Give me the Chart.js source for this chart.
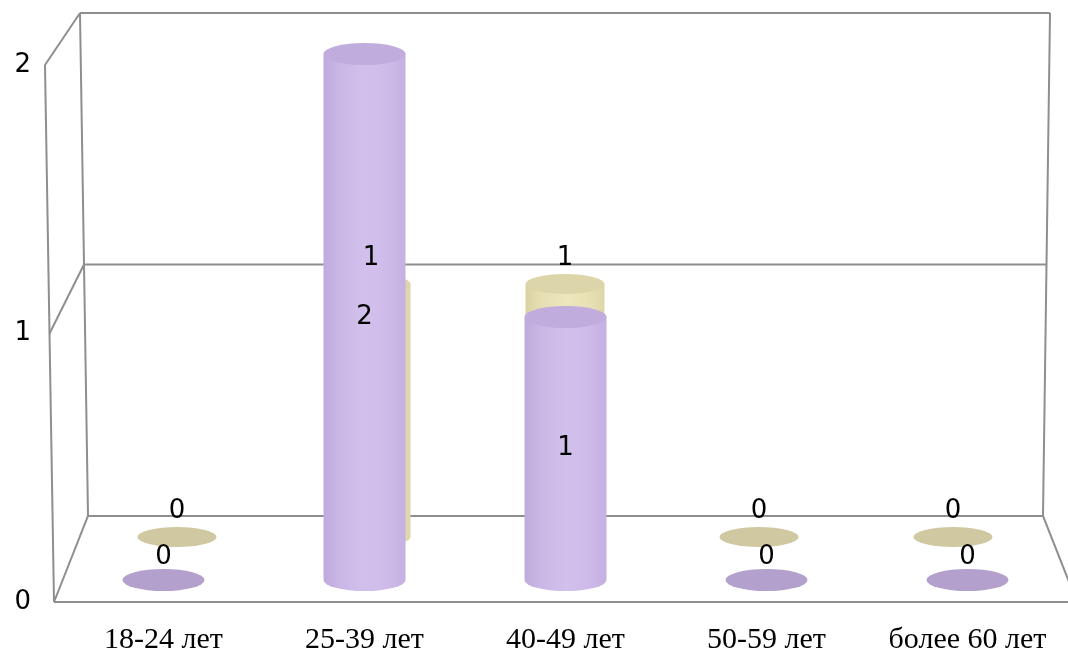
<!DOCTYPE html>
<html lang="ru">
<head>
<meta charset="utf-8">
<title>Возраст</title>
<script src="https://cdn.jsdelivr.net/npm/chart.js@4.4.0/dist/chart.umd.min.js"></script>
<style>
  html, body { margin: 0; padding: 0; background: #fff; }
  #wrap { width: 1068px; height: 652px; position: relative; }
</style>
</head>
<body>
<div id="wrap"><canvas id="chart"></canvas></div>
<script>
// Age groups and the two series (back row and front row)
const categories = ['18-24 лет', '25-39 лет', '40-49 лет', '50-59 лет', 'более 60 лет'];
const backValues = [0, 1, 1, 0, 0];
const frontValues = [0, 2, 1, 0, 0];
const yTicks = [0, 1, 2];

// 3D box outline (pixel geometry of the walls)
const FRAME = {
  backTopLeft: 80, backBottomLeft: 88,
  backTopRight: 1050, backBottomRight: 1043,
  frontTopLeft: 45, frontBottomLeft: 54,
  color: '#8e8e8e', width: 2
};

// Look of each row of cylinders
const ROW_STYLE = {
  back: {
    ry: 10,
    body: ['#d9d1a1', '#e5deb1', '#ece6bd', '#e9e2b6', '#ded6a8'],
    cap: '#ddd5aa',
    flat: '#cfc8a0'
  },
  front: {
    ry: 11,
    body: ['#bfabdc', '#c9b6e5', '#d2c0ec', '#cebbea', '#c4b0e1'],
    cap: '#c0acdd',
    flat: '#b3a0cd'
  }
};

const LABEL_FONT = '26px "DejaVu Sans"';

function lerpEdge(xTop, xBottom, scale, v) {
  const yT = scale.getPixelForValue(yTicks[yTicks.length - 1]);
  const yB = scale.getPixelForValue(0);
  const y = scale.getPixelForValue(v);
  return xBottom + (xTop - xBottom) * (yB - y) / (yB - yT);
}

const framePlugin = {
  id: 'frame3d',
  beforeDatasetsDraw(chart) {
    const ctx = chart.ctx;
    const w = chart.scales.yWall, e = chart.scales.yEdge;
    const topV = yTicks[yTicks.length - 1];
    const line = (x1, y1, x2, y2) => { ctx.beginPath(); ctx.moveTo(x1, y1); ctx.lineTo(x2, y2); ctx.stroke(); };
    ctx.save();
    ctx.strokeStyle = FRAME.color;
    ctx.lineWidth = FRAME.width;
    // back wall verticals
    line(FRAME.backTopLeft, w.getPixelForValue(topV), FRAME.backBottomLeft, w.getPixelForValue(0));
    line(FRAME.backTopRight, w.getPixelForValue(topV), FRAME.backBottomRight, w.getPixelForValue(0));
    // front edge of the side wall
    line(FRAME.frontTopLeft, e.getPixelForValue(topV), FRAME.frontBottomLeft, e.getPixelForValue(0));
    // gridlines on back wall + side wall
    yTicks.forEach(v => {
      const yb = w.getPixelForValue(v), yf = e.getPixelForValue(v);
      const xl = lerpEdge(FRAME.backTopLeft, FRAME.backBottomLeft, w, v);
      const xr = lerpEdge(FRAME.backTopRight, FRAME.backBottomRight, w, v);
      const xf = lerpEdge(FRAME.frontTopLeft, FRAME.frontBottomLeft, e, v);
      line(xl, yb, xr, yb);
      line(xf, yf, xl, yb);
    });
    // floor: front edge and right edge
    const yFloor = e.getPixelForValue(0), yBackFloor = w.getPixelForValue(0);
    line(FRAME.frontBottomLeft, yFloor, chart.width, yFloor);
    const depth = FRAME.backBottomLeft - FRAME.frontBottomLeft;
    line(FRAME.backBottomRight, yBackFloor, FRAME.backBottomRight + depth, yFloor);
    ctx.restore();
  }
};

function drawCylinder(ctx, el, style, value) {
  const { x, y, base, width } = el.getProps(['x', 'y', 'base', 'width'], true);
  const rx = width / 2, ry = style.ry;
  if (value === 0) {
    ctx.fillStyle = style.flat;
    ctx.beginPath();
    ctx.ellipse(x, base, rx, ry, 0, 0, Math.PI * 2);
    ctx.fill();
    return;
  }
  const g = ctx.createLinearGradient(x - rx, 0, x + rx, 0);
  const stops = [0, 0.18, 0.5, 0.78, 1];
  style.body.forEach((c, i) => g.addColorStop(stops[i], c));
  ctx.fillStyle = g;
  ctx.beginPath();
  ctx.moveTo(x - rx, y);
  ctx.lineTo(x - rx, base);
  ctx.ellipse(x, base, rx, ry, 0, Math.PI, 0, true);
  ctx.lineTo(x + rx, y);
  ctx.closePath();
  ctx.fill();
  ctx.fillStyle = style.cap;
  ctx.beginPath();
  ctx.ellipse(x, y, rx, ry, 0, 0, Math.PI * 2);
  ctx.fill();
}

const cylinderPlugin = {
  id: 'cylinders',
  afterDatasetsDraw(chart) {
    const ctx = chart.ctx;
    ctx.save();
    const rows = [
      { meta: chart.getDatasetMeta(0), style: ROW_STYLE.back, values: backValues },
      { meta: chart.getDatasetMeta(1), style: ROW_STYLE.front, values: frontValues }
    ];
    rows.forEach(r => r.meta.data.forEach((el, i) => drawCylinder(ctx, el, r.style, r.values[i])));

    // value labels
    ctx.fillStyle = '#000';
    ctx.font = LABEL_FONT;
    ctx.textAlign = 'center';
    ctx.textBaseline = 'middle';
    rows[0].meta.data.forEach((el, i) => {
      const { x, y } = el.getProps(['x', 'y'], true);
      ctx.fillText(String(backValues[i]), x, y - 26);
    });
    rows[1].meta.data.forEach((el, i) => {
      const { x, y, base } = el.getProps(['x', 'y', 'base'], true);
      const v = frontValues[i];
      ctx.fillText(String(v), x, v === 0 ? y - 23 : (y + base) / 2);
    });
    ctx.restore();
  }
};

new Chart(document.getElementById('chart'), {
  type: 'bar',
  data: {
    labels: categories,
    datasets: [
      {
        label: 'back',
        data: backValues.map((v, i) => ({ x: i, y: v })),
        xAxisID: 'xBack', yAxisID: 'yBack',
        barThickness: 79, grouped: false,
        backgroundColor: 'rgba(0,0,0,0)', borderWidth: 0
      },
      {
        label: 'front',
        data: frontValues,
        xAxisID: 'x', yAxisID: 'y',
        barThickness: 82, grouped: false,
        backgroundColor: 'rgba(0,0,0,0)', borderWidth: 0
      }
    ]
  },
  options: {
    responsive: true,
    maintainAspectRatio: false,
    animation: false,
    layout: { padding: { top: 13, left: 0, right: 0, bottom: 0 } },
    plugins: { legend: { display: false }, tooltip: { enabled: false } },
    scales: {
      x: {
        type: 'category', position: 'bottom', offset: true,
        grid: { display: false, drawTicks: false },
        border: { display: false },
        ticks: {
          font: { family: '"Liberation Serif"', size: 30, lineHeight: 1 },
          color: '#000', padding: 23, maxRotation: 0, autoSkip: false
        },
        afterFit(s) { s.height = 50; s.paddingLeft = 0; s.paddingRight = 0; }
      },
      xBack: { type: 'linear', display: false, offset: false, min: -0.5876, max: 4.5928 },
      y: { type: 'linear', display: false, min: -0.0837, max: 2.1559 },
      yBack: { type: 'linear', display: false, min: -0.2569, max: 2.071 },
      yWall: { type: 'linear', display: false, min: -0.342, max: 2 },
      yEdge: {
        type: 'linear', position: 'left', min: 0, max: 2.1937,
        grid: { display: false, drawTicks: false },
        border: { display: false },
        ticks: {
          stepSize: 1, includeBounds: false,
          font: { family: '"DejaVu Sans"', size: 26 },
          color: '#000', padding: 32
        },
        afterFit(s) { s.width = 63; s.paddingTop = 0; s.paddingBottom = 0; }
      }
    }
  },
  plugins: [framePlugin, cylinderPlugin]
});
</script>
</body>
</html>
